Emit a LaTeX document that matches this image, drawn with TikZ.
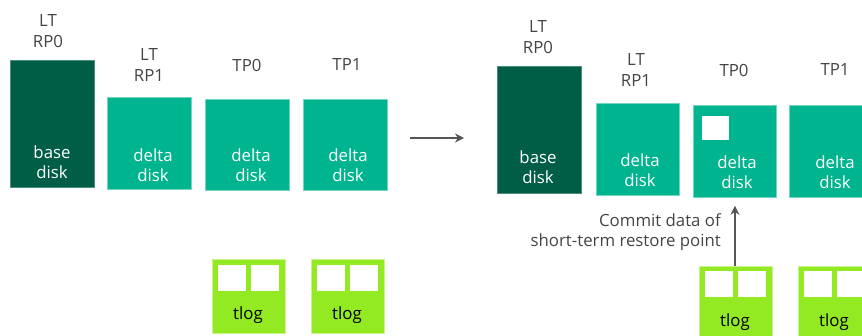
\documentclass[tikz,border=0pt]{standalone}
\usepackage{fontspec}
\setmainfont{Open Sans}
\usetikzlibrary{arrows.meta}
\definecolor{basec}{HTML}{005E46}
\definecolor{deltac}{HTML}{00B48F}
\definecolor{tlogc}{HTML}{93EA22}
\definecolor{labc}{HTML}{444444}
\definecolor{arrc}{HTML}{555555}
\tikzset{
  x=1pt, y=-1pt,
  disk/.style={rectangle, inner sep=0pt, anchor=north west, line width=0.8pt},
  basebox/.style={disk, fill=basec, draw=basec!70!white, minimum width=84pt, minimum height=127pt},
  deltabox/.style={disk, fill=deltac, draw=deltac!55!white, minimum width=84pt, minimum height=92pt},
  tlogbox/.style={disk, fill=tlogc, draw=tlogc!50!white, minimum width=73pt, minimum height=74pt},
  slot/.style={disk, fill=white, draw=white, minimum width=27pt, minimum height=25pt},
  lab/.style={font=\fontsize{16.8}{20.5}\selectfont, text=labc, align=center, inner sep=0pt},
  intext/.style={font=\fontsize{16.8}{20.5}\selectfont, text=white, align=center, inner sep=0pt},
  tlogtext/.style={font=\fontsize{16.8}{20.5}\selectfont, text=black, inner sep=0pt},
  conn/.style={draw=arrc, line width=1.4pt, -{Stealth[length=9pt,width=9pt]}}
}
\begin{document}
\begin{tikzpicture}
\useasboundingbox (0,0) rectangle (862,335);
\clip (0,0) rectangle (862,335);
% ---- left group ----
\node[basebox] (lb) at (10,60) {};
\node[deltabox] (lr1) at (107,97) {};
\node[deltabox, minimum height=91pt] (ltp0) at (205,99) {};
\node[deltabox, minimum height=91pt] (ltp1) at (303,99) {};
\node[lab] (lbl) at (48,31) {LT\\RP0};
\node[lab] (lr1l) at (149,65) {LT\\RP1};
\node[lab] (ltp0l) at (247,65) {TP0};
\node[lab] (ltp1l) at (347,65) {TP1};
\node[intext] (lbt) at (52,162) {base\\disk};
\node[intext] (lr1t) at (153,165) {delta\\disk};
\node[intext] (ltp0t) at (251,165) {delta\\disk};
\node[intext] (ltp1t) at (348,165) {delta\\disk};
% left tlogs
\node[tlogbox] (lt1) at (212,259) {};
\node[slot] (lt1a) at (218,265) {};
\node[slot] (lt1b) at (251,265) {};
\node[tlogtext] (lt1t) at (248,315) {tlog};
\node[tlogbox] (lt2) at (311,259) {};
\node[slot] (lt2a) at (317,265) {};
\node[slot] (lt2b) at (350,265) {};
\node[tlogtext] (lt2t) at (347,315) {tlog};
% ---- transition arrow ----
\coordinate (a1) at (410,138);
\coordinate (a2) at (464,138);
\draw[conn] (a1) -- (a2);
% ---- right group ----
\node[basebox] (rb) at (497,66) {};
\node[deltabox, minimum width=83pt] (rr1) at (596,103) {};
\node[deltabox, minimum width=83pt] (rtp0) at (693,105) {};
\node[deltabox, minimum width=83pt] (rtp1) at (789,105) {};
\node[slot, minimum width=26pt, minimum height=23pt] (rsq) at (702,116) {};
\node[lab] (rbl) at (538,37) {LT\\RP0};
\node[lab] (rr1l) at (636,70) {LT\\RP1};
\node[lab] (rtp0l) at (734,70) {TP0};
\node[lab] (rtp1l) at (835,70) {TP1};
\node[intext] (rbt) at (538,167) {base\\disk};
\node[intext] (rr1t) at (640,170) {delta\\disk};
\node[intext] (rtp0t) at (737,172) {delta\\disk};
\node[intext] (rtp1t) at (835,172) {delta\\disk};
% right tlogs
\node[tlogbox, minimum height=80pt] (rt1) at (699,266) {};
\node[slot] (rt1a) at (705,271) {};
\node[slot] (rt1b) at (738,271) {};
\node[tlogtext] (rt1t) at (735,322) {tlog};
\node[tlogbox, minimum height=80pt] (rt2) at (798,266) {};
\node[slot] (rt2a) at (804,271) {};
\node[slot] (rt2b) at (837,271) {};
\node[tlogtext] (rt2t) at (834,322) {tlog};
% commit arrow
\draw[conn, shorten >=8pt] (rt1.north -| rtp0.south) -- (rtp0.south);
\node[lab, align=right, anchor=east] (cm) at (721,232) {Commit data of\\short-term restore point};
\end{tikzpicture}
\end{document}
